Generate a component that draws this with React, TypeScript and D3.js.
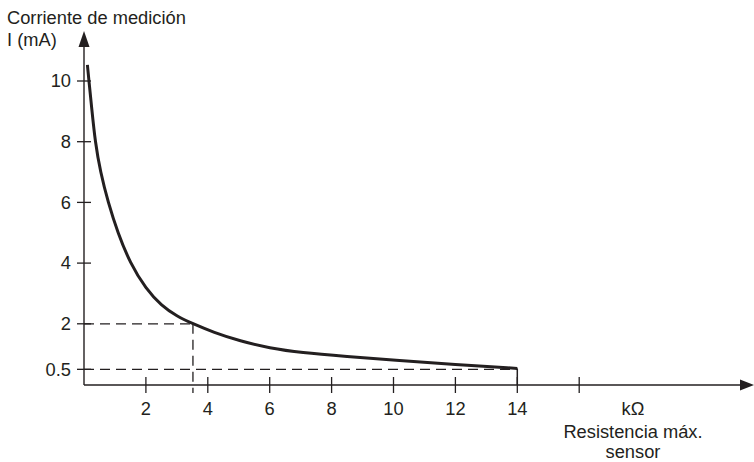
import React from "react";
import * as d3 from "d3";

const resistance = [0.11, 0.16, 0.25, 0.36, 0.53, 0.78, 1.09, 1.49, 2.0, 2.5, 3.0, 3.52, 4.18, 5.04, 6, 7, 8.5, 10, 12, 14];
const current = [10.53, 10, 9.1, 8, 7, 6, 5, 4, 3.15, 2.6, 2.25, 2.0, 1.72, 1.43, 1.2, 1.05, 0.92, 0.8, 0.66, 0.53];
const xTicks = [2, 4, 6, 8, 10, 12, 14, 16];
const xTickLabels = ["2", "4", "6", "8", "10", "12", "14", ""];
const yTicks = [0.5, 2, 4, 6, 8, 10];
const yTickLabels = ["0.5", "2", "4", "6", "8", "10"];
const refPoint = { r: 3.52, i: 2 };
const refEnd = { r: 14, i: 0.5 };
const yTitle = ["Corriente de medición", "I (mA)"];
const xUnit = "kΩ";
const xTitle = ["Resistencia máx.", "sensor"];

const W = 754;
const H = 462;
const FONT = "'Liberation Sans', Arial, Helvetica, sans-serif";

export default function App() {
  const x = d3.scaleLinear().domain([0, 16]).range([84, 579.2]);
  const y = d3.scaleLinear().domain([0, 10]).range([384.5, 81]);
  const x0 = x(0);
  const yAxisY = 385;
  const data = resistance.map((r, k) => [r, current[k]] as [number, number]);
  const line = d3
    .line<[number, number]>()
    .x((d) => x(d[0]))
    .y((d) => y(d[1]))
    .curve(d3.curveBasis);
  const dash = "10,6";
  const fs = 18.3;
  const ink = "#231f20";
  return (
    <svg
      width={W}
      height={H}
      style={{ position: "absolute", left: 0, top: 0, background: "#fff" }}
      fontFamily={FONT}
    >
      <rect width={W} height={H} fill="#fff" />
      {/* y axis */}
      <line x1={x0} x2={x0} y1={yAxisY} y2={44} stroke={ink} strokeWidth={1.4} />
      <path d={`M${x0},31 L${x0 - 5.5},47 L${x0 + 5.5},47 Z`} fill={ink} />
      {/* x axis */}
      <line x1={x0} x2={742} y1={yAxisY} y2={yAxisY} stroke={ink} strokeWidth={1.4} />
      <path d={`M754,${yAxisY} L740,${yAxisY - 5.5} L740,${yAxisY + 5.5} Z`} fill={ink} />
      {/* y ticks */}
      {yTicks.map((t, k) => (
        <g key={"y" + k}>
          <line x1={x0 - 7} x2={x0 + 7} y1={y(t)} y2={y(t)} stroke={ink} strokeWidth={1.3} />
          <text x={71} y={y(t) + 6.3} textAnchor="end" fontSize={fs} fill={ink}>
            {yTickLabels[k]}
          </text>
        </g>
      ))}
      {/* x ticks */}
      {xTicks.map((t, k) => (
        <g key={"x" + k}>
          <line x1={x(t)} x2={x(t)} y1={yAxisY - 8} y2={yAxisY + 8} stroke={ink} strokeWidth={1.3} />
          <text x={x(t)} y={415} textAnchor="middle" fontSize={fs} fill={ink}>
            {xTickLabels[k]}
          </text>
        </g>
      ))}
      {/* reference dashed lines */}
      <line x1={x0} x2={x(refPoint.r)} y1={y(refPoint.i)} y2={y(refPoint.i)} stroke={ink} strokeWidth={1.3} strokeDasharray={dash} />
      <line x1={x(refPoint.r)} x2={x(refPoint.r)} y1={y(refPoint.i)} y2={yAxisY + 8} stroke={ink} strokeWidth={1.3} strokeDasharray={dash} />
      <line x1={x0} x2={x(refEnd.r)} y1={y(refEnd.i)} y2={y(refEnd.i)} stroke={ink} strokeWidth={1.3} strokeDasharray={dash} />
      <line x1={x(refEnd.r)} x2={x(refEnd.r)} y1={y(current[current.length - 1])} y2={yAxisY} stroke={ink} strokeWidth={1.5} />
      {/* curve */}
      <path d={line(data) || ""} fill="none" stroke={ink} strokeWidth={3} strokeLinejoin="round" />
      {/* titles */}
      <text x={7} y={24} fontSize={fs} fill={ink}>{yTitle[0]}</text>
      <text x={7} y={46} fontSize={fs} fill={ink}>{yTitle[1]}</text>
      <text x={633} y={415} textAnchor="middle" fontSize={fs} fill={ink}>{xUnit}</text>
      <text x={633} y={438} textAnchor="middle" fontSize={fs} fill={ink}>{xTitle[0]}</text>
      <text x={633} y={458} textAnchor="middle" fontSize={fs} fill={ink}>{xTitle[1]}</text>
    </svg>
  );
}
